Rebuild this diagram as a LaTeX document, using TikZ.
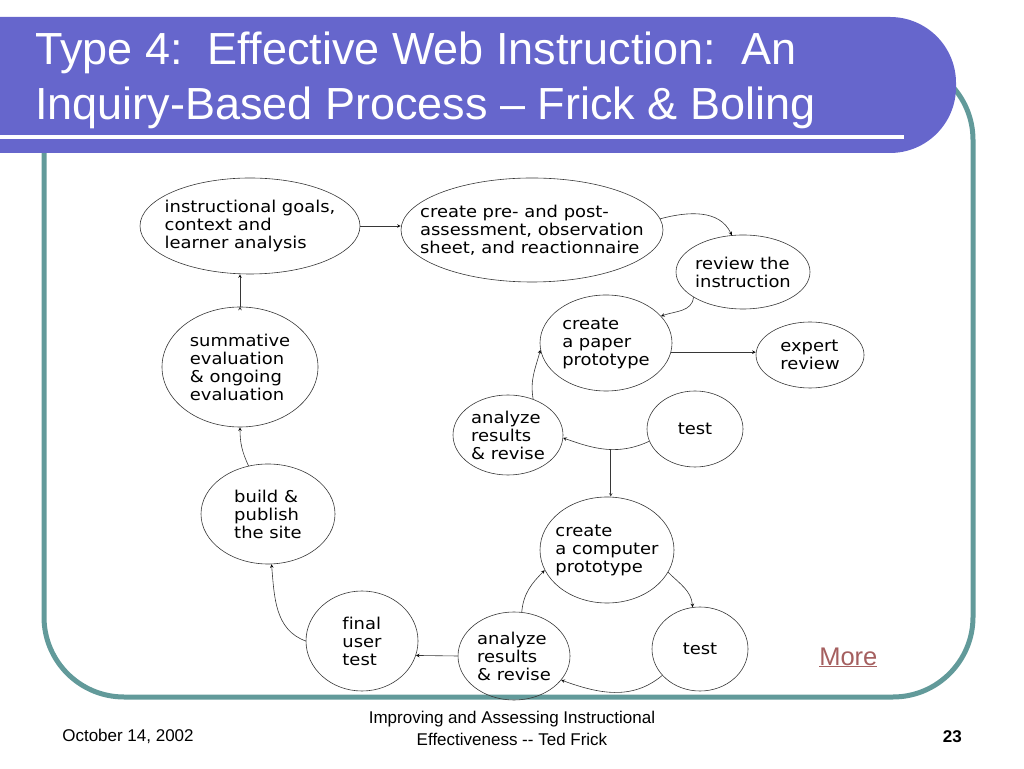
\documentclass[tikz,border=0pt]{standalone}
\usepackage{fontspec}
\setmainfont{Liberation Sans}
\newfontfamily\stagefont[FakeStretch=1.1, Ligatures=NoCommon]{DejaVu Sans}
\usepackage{tikz}
\usetikzlibrary{shapes.geometric}

\definecolor{bannerblue}{RGB}{102,102,204}
\definecolor{frameteal}{RGB}{98,154,154}
\definecolor{linkred}{RGB}{165,95,95}
\definecolor{edgegray}{RGB}{55,55,55}

\begin{document}
\begin{tikzpicture}[
        x=1pt, y=1pt,
        >=stealth,
        semithick,
        stage/.style={draw=edgegray, ellipse, inner xsep=-150pt, inner ysep=-60pt,
                      align=left, font=\stagefont\fontsize{16.3}{18}\selectfont},
        title/.style={text=white, anchor=base west, inner sep=0pt,
                      font=\fontsize{45}{50}\selectfont},
        footer/.style={inner sep=0pt, font=\fontsize{17}{22}\selectfont}
        ]
        \useasboundingbox (0,0) rectangle (1024,768);

        % slide frame and title banner
        \draw[frameteal, line width=5pt, rounded corners=80pt] (44,71) rectangle (973,708);
        \fill[bannerblue] (0,751) [rounded corners=66pt] -- (956,751) -- (956,615) [sharp corners] -- (0,615) -- cycle;
        \draw[white, line width=4pt] (0,631) -- (904,631);
        \node[title] (title1) at (35,703) {Type 4:\ \ Effective Web Instruction:\ \ An};
        \node[title] (title2) at (35,648) {Inquiry-Based Process -- Frick \& Boling};

        % stages
        \node[stage, minimum width=220pt, minimum height=96pt] (goals) at (250,542) {instructional goals,\\context and\\learner analysis};
        \node[stage, minimum width=262pt, minimum height=104pt] (pre) at (532,538) {create pre- and post-\\assessment, observation\\sheet, and reactionnaire};
        \node[stage, minimum width=134pt, minimum height=74pt] (review) at (743,496) {review the\\instruction};
        \node[stage, minimum width=132pt, minimum height=96pt] (paper) at (606,425) {create\\a paper\\prototype};
        \node[stage, minimum width=108pt, minimum height=66pt] (expert) at (810,413) {expert\\review};
        \node[stage, minimum width=110pt, minimum height=80pt] (ana1) at (508,333) {analyze\\results\\\& revise};
        \node[stage, minimum width=96pt, minimum height=76pt] (test1) at (695,339) {test};
        \node[stage, minimum width=134pt, minimum height=106pt] (comp) at (607,218) {create\\a computer\\prototype};
        \node[stage, minimum width=96pt, minimum height=84pt] (test2) at (700,119) {test};
        \node[stage, minimum width=112pt, minimum height=88pt] (ana2) at (514,112) {analyze\\results\\\& revise};
        \node[stage, minimum width=112pt, minimum height=100pt] (final) at (362,127) {final\\user\\test};
        \node[stage, minimum width=134pt, minimum height=100pt] (build) at (268,254) {build \&\\publish\\the site};
        \node[stage, minimum width=156pt, minimum height=120pt] (summ) at (240,401) {summative\\evaluation\\\& ongoing\\evaluation};

        \path[->, draw=edgegray]
              (goals.east) edge (goals.east -| pre.west)
              (pre.5) edge [out=15, in=115] (review.107)
              (review.207) edge [out=-95, in=20] (paper.26)
              (paper.-8) edge (paper.-8 -| expert.west)
              (ana1.55) edge [out=100, in=-105] (paper.186)
              (test1.195) edge [out=-155, in=-20] node[coordinate, pos=0.45] (split) {} (ana1.-3)

              (comp.-20) edge [out=-45, in=95] (test2.100)
              (test2.215) edge [out=-140, in=-20] (ana2.-27)
              (ana2.80) edge [out=85, in=-135] (comp.198)
              (ana2.west) edge (final.-15)
              (final.180) edge [out=160, in=-85] (build.-86)
              (build.112) edge [out=115, in=-90] (summ.south)
              (summ.north) edge (summ.north |- goals.south);
        \draw[->, edgegray] (split) -- (split |- comp.north);

        % footer
        \node[anchor=base west, inner sep=0pt, text=linkred, font=\fontsize{25.5}{28}\selectfont] (more) at (819,103) {\underline{More}};
        \node[footer, anchor=base west] (date) at (62,27) {October 14, 2002};
        \node[footer, align=center] (course) at (512,40) {Improving and Assessing Instructional\\Effectiveness -{}- Ted Frick};
        \node[footer, anchor=base east, font=\bfseries\fontsize{17}{22}\selectfont] (page) at (962,26) {23};
\end{tikzpicture}
\end{document}
